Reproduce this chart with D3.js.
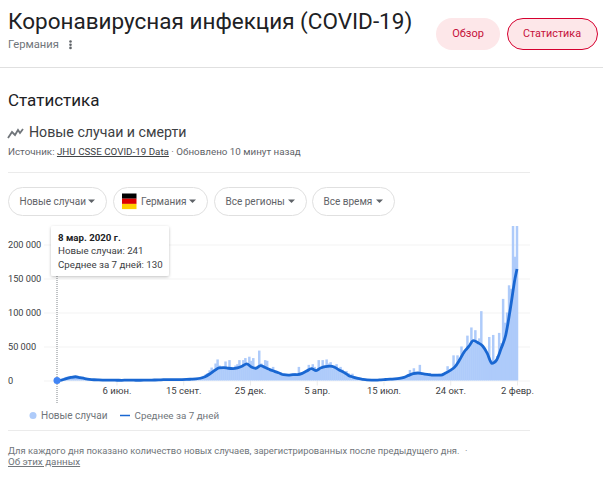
<!DOCTYPE html>
<html>
<head>
<meta charset="utf-8">
<script src="https://cdnjs.cloudflare.com/ajax/libs/d3/7.8.5/d3.min.js"></script>
<style>
  html, body { margin: 0; padding: 0; background: #fff; overflow: hidden; }
  text { font-family: Roboto, Arial, sans-serif; }
</style>
</head>
<body>
<svg id="chart" width="603" height="491"></svg>
<script>
// new cases, one value every 3 days from 8 Mar 2020
var newCases = [
	241, 900, 1500, 3500, 4500, 5500, 6000, 6800, 5500, 4800,
	4000, 3800, 2800, 2500, 1800, 2000, 1300, 1200, 1300, 900,
	1000, 700, 600, 650, 500, 600, 400, 500, 350, 300,
	400, 300, 350, 1000, 500, 600, 400, 500, 350, 400,
	350, 400, 450, 500, 600, 700, 800, 900, 700, 1000,
	1100, 1300, 1400, 1500, 1300, 1400, 1200, 1300, 1400, 1200,
	1400, 1300, 1600, 1800, 1600, 2200, 1800, 2300, 2500, 2800,
	2700, 3500, 4500, 5500, 6800, 9000, 11000, 15000, 19000, 16000,
	25000, 31000, 22000, 17000, 20000, 28000, 17000, 30000, 20000, 17000,
	22000, 24000, 30000, 19000, 30000, 33000, 24000, 35000, 29000, 33000,
	17000, 20000, 44000, 25000, 19000, 30000, 29000, 14000, 16000, 20000,
	14000, 12000, 9000, 12000, 8000, 8000, 9000, 8000, 9000, 10000,
	11000, 9000, 20000, 9000, 12000, 14000, 16000, 23000, 15000, 24000,
	20000, 15000, 30000, 16000, 30000, 22000, 31000, 25000, 27000, 18000,
	22000, 24000, 16000, 20000, 16000, 13000, 14000, 11000, 8000, 10000,
	6000, 5500, 4500, 3500, 3000, 2200, 2000, 1500, 1200, 1000,
	800, 700, 600, 800, 500, 700, 1000, 1000, 1200, 1500,
	2000, 2500, 2200, 3000, 3500, 4000, 5000, 6500, 15500, 9000,
	18000, 10000, 12000, 23000, 9000, 10000, 9000, 8000, 11000, 8000,
	8000, 9000, 8000, 10000, 8000, 8000, 11000, 21000, 14000, 17000,
	37000, 22000, 37000, 30000, 50000, 38000, 42000, 66000, 48000, 78000,
	56000, 74000, 55000, 62000, 102000, 50000, 46000, 40000, 64000, 30000,
	67000, 27000, 36000, 70000, 55000, 120000, 85000, 100000, 140000, 135000,
	240000, 182000, 240000
];

// 7 day average, one value per week from 8 Mar 2020, last one is 2 Feb 2022
var averageCases = [
	130, 700, 2800, 4500, 5500, 4200, 2900, 1800, 1100, 800,
	650, 550, 450, 400, 330, 500, 550, 400, 350, 450,
	600, 700, 850, 1200, 1300, 1200, 1300, 1400, 1600, 1900,
	2300, 3300, 5500, 9500, 14500, 18500, 19000, 18000, 17500, 18500,
	21000, 24500, 20000, 18000, 22000, 19000, 16000, 13500, 11000, 8500,
	8000, 8500, 8700, 10500, 14000, 17500, 14500, 18500, 20500, 21000,
	19500, 15500, 12000, 7500, 5000, 3000, 1800, 900, 650, 600,
	1000, 1500, 2000, 2300, 3000, 4500, 7500, 10000, 11000, 10000,
	9000, 8000, 8000, 8000, 11000, 15000, 20000, 30000, 42000, 50000,
	58500, 55600, 50700, 40000, 25300, 30000, 47000, 67000, 106000, 150000,
	164000
];

var yTicks = [0, 50000, 100000, 150000, 200000];
var xTickDates = ["2020-06-06", "2020-09-15", "2020-12-25", "2021-04-05", "2021-07-15", "2021-10-24", "2022-02-02"];
var xTickLabels = ["6 июн.", "15 сент.", "25 дек.", "5 апр.", "15 июл.", "24 окт.", "2 февр."];
var filterLabels = ["Новые случаи", "Германия", "Все регионы", "Все время"];
var tooltipLines = ["8 мар. 2020 г.", "Новые случаи: 241", "Среднее за 7 дней: 130"];

var parseDay = d3.utcParse("%Y-%m-%d");
var startDate = parseDay("2020-03-08");
var endDate = parseDay("2022-02-02");

function addDays(n) {
	return d3.utcDay.offset(startDate, n);
}

var barData = newCases.map(function(v, i) { return { date: addDays(i * 3), value: v }; });
var lineData = averageCases.map(function(v, i) {
	return { date: i == averageCases.length - 1 ? endDate : addDays(i * 7), value: v };
});

var svg = d3.select("#chart");

var x = d3.scaleUtc().domain([startDate, endDate]).range([57, 517]);
var y = d3.scaleLinear().domain([0, 200000]).range([380.5, 244.5]);
var topEdge = 226;

drawHeader();
drawFilters();
drawAxes();
drawMarks();
drawTooltip();
drawFooter();

function label(parent, txt, px, py, size, color, weight) {
	return parent.append("text")
		.attr("x", px).attr("y", py)
		.attr("font-size", size)
		.attr("fill", color)
		.attr("font-weight", weight || 400)
		.text(txt);
}

function rule(px1, px2, py, color) {
	svg.append("line")
		.attr("x1", px1).attr("x2", px2)
		.attr("y1", py).attr("y2", py)
		.attr("stroke", color);
}

function drawHeader() {
	label(svg, "Коронавирусная инфекция (COVID-19)", 8, 29, 22.5, "#202124");
	label(svg, "Германия", 8, 48, 11.2, "#70757a");

	svg.selectAll(".menu-dot").data([0, 1, 2]).enter().append("circle")
		.attr("cx", 70.5).attr("cy", function(d) { return 41.5 + d * 3.2; })
		.attr("r", 1.3).attr("fill", "#5f6368");

	svg.append("rect").attr("x", 436).attr("y", 18).attr("width", 64).attr("height", 32)
		.attr("rx", 16).attr("fill", "#fde7e9");
	label(svg, "Обзор", 468, 37, 11, "#c5103a").attr("text-anchor", "middle");

	svg.append("rect").attr("x", 507.5).attr("y", 18.5).attr("width", 90).attr("height", 31)
		.attr("rx", 15.5).attr("fill", "#fde7e9").attr("stroke", "#d5002f");
	label(svg, "Статистика", 552, 37, 10.8, "#c5103a").attr("text-anchor", "middle");

	rule(0, 603, 67.5, "#e0e0e0");

	label(svg, "Статистика", 8, 106, 17, "#202124");

	svg.append("path").attr("d", d3.line()([[8, 138], [12, 132], [15, 135], [18, 130], [20, 133], [23, 129]]))
		.attr("fill", "none").attr("stroke", "#70757a").attr("stroke-width", 1.8);
	label(svg, "Новые случаи и смерти", 29, 137, 14.2, "#3c4043");

	var src = label(svg, "Источник: ", 8, 155, 9.8, "#5f6368");
	src.append("tspan").attr("fill", "#3c4043").attr("text-decoration", "underline").text("JHU CSSE COVID-19 Data");
	src.append("tspan").text(" · Обновлено 10 минут назад");

	rule(8, 530, 172.5, "#ebebeb");
}

function drawFilters() {
	var boxes = [[8.5, 98], [113.5, 94], [214.5, 92], [312.5, 82]];
	var g = svg.selectAll(".filter").data(filterLabels).enter().append("g").attr("class", "filter");

	g.append("rect")
		.attr("x", function(d, i) { return boxes[i][0]; })
		.attr("y", 187.5)
		.attr("width", function(d, i) { return boxes[i][1]; })
		.attr("height", 28)
		.attr("rx", 14)
		.attr("fill", "#fff")
		.attr("stroke", "#e0e0e0");

	g.append("text")
		.attr("x", function(d, i) { return i == 1 ? 141 : boxes[i][0] + 11; })
		.attr("y", 204.5)
		.attr("font-size", 10)
		.attr("fill", "#5f6368")
		.text(function(d) { return d; });

	g.append("path")
		.attr("d", function(d, i) {
			var cx = boxes[i][0] + boxes[i][1] - 15;
			return "M" + (cx - 3.5) + " 199.5 L" + (cx + 3.5) + " 199.5 L" + cx + " 203 Z";
		})
		.attr("fill", "#5f6368");

	var flagColors = ["#000", "#dd0000", "#ffce00"];
	svg.selectAll(".flag").data(flagColors).enter().append("rect")
		.attr("x", 122).attr("width", 14.5).attr("height", 5.2)
		.attr("y", function(d, i) { return 193.5 + i * 5.2; })
		.attr("fill", function(d) { return d; });
}

function drawAxes() {
	var fmt = d3.formatLocale({ decimal: ",", thousands: " ", grouping: [3], currency: ["", ""] }).format(",");

	var yAxis = d3.axisLeft(y).tickValues(yTicks).tickSize(0).tickFormat(fmt);
	var yg = svg.append("g").attr("transform", "translate(0,0)").call(yAxis);
	yg.select(".domain").remove();
	yg.selectAll("text")
		.attr("x", 8).attr("dy", "0.32em").attr("text-anchor", "start")
		.attr("font-size", 9.2).attr("font-family", "Roboto, Arial, sans-serif").attr("fill", "#3c4043");
	yg.selectAll("line")
		.attr("x1", 44).attr("x2", 530).attr("stroke", "#f3f3f3");

	var xAxis = d3.axisBottom(x)
		.tickValues(xTickDates.map(parseDay))
		.tickSize(5)
		.tickPadding(2)
		.tickFormat(function(d, i) { return xTickLabels[i]; });
	var xg = svg.append("g").attr("transform", "translate(0," + y(0) + ")").call(xAxis);
	xg.select(".domain").remove();
	xg.selectAll("line").attr("stroke", "#ececec");
	xg.selectAll("text")
		.attr("font-size", 9.5).attr("font-family", "Roboto, Arial, sans-serif").attr("fill", "#3c4043");
}

function drawMarks() {
	svg.append("clipPath").attr("id", "plot-clip").append("rect")
		.attr("x", 44).attr("y", topEdge).attr("width", 486).attr("height", y(0) - topEdge + 2);

	// a bit wider than the 3 day step so no pale seams show between bars
	var barWidth = x(addDays(3)) - x(addDays(0)) + 0.5;

	svg.append("g").attr("clip-path", "url(#plot-clip)")
		.selectAll("rect").data(barData).enter().append("rect")
		.attr("x", function(d) { return x(d.date) - barWidth / 2; })
		.attr("y", function(d) { return y(d.value); })
		.attr("width", barWidth)
		.attr("height", function(d) { return y(0) - y(d.value); })
		.attr("fill", "#aecbfa");

	var line = d3.line()
		.x(function(d) { return x(d.date); })
		.y(function(d) { return y(d.value); })
		.curve(d3.curveMonotoneX);

	svg.append("path").datum(lineData)
		.attr("d", line)
		.attr("fill", "none")
		.attr("stroke", "#1967d2")
		.attr("stroke-width", 2.8)
		.attr("stroke-linejoin", "round");

	svg.append("line")
		.attr("x1", x(startDate)).attr("x2", x(startDate))
		.attr("y1", 276).attr("y2", 403)
		.attr("stroke", "#80868b").attr("stroke-dasharray", "1,1");

	svg.append("circle")
		.attr("cx", x(startDate)).attr("cy", y(averageCases[0]))
		.attr("r", 3.5).attr("fill", "#4285f4");
}

function drawTooltip() {
	svg.append("filter").attr("id", "tip-shadow")
		.append("feDropShadow")
		.attr("dx", 0).attr("dy", 1).attr("stdDeviation", 1.5)
		.attr("flood-color", "#000").attr("flood-opacity", 0.25);

	svg.append("rect").attr("x", 51).attr("y", 226).attr("width", 118).attr("height", 50)
		.attr("rx", 2).attr("fill", "#fff").attr("filter", "url(#tip-shadow)");

	svg.selectAll(".tip").data(tooltipLines).enter().append("text")
		.attr("x", 58)
		.attr("y", function(d, i) { return 240.5 + i * 13.5; })
		.attr("font-size", 9.7)
		.attr("font-weight", function(d, i) { return i == 0 ? 700 : 400; })
		.attr("fill", function(d, i) { return i == 0 ? "#202124" : "#3c4043"; })
		.text(function(d) { return d; });
}

function drawFooter() {
	svg.append("circle").attr("cx", 33).attr("cy", 415.5).attr("r", 3.5).attr("fill", "#aecbfa");
	label(svg, "Новые случаи", 41, 419, 10, "#70757a");
	svg.append("line").attr("x1", 120).attr("x2", 130).attr("y1", 415.5).attr("y2", 415.5)
		.attr("stroke", "#1967d2").attr("stroke-width", 1.5);
	label(svg, "Среднее за 7 дней", 134.5, 419, 9.8, "#70757a");

	rule(8, 530, 430.5, "#ebebeb");

	label(svg, "Для каждого дня показано количество новых случаев, зарегистрированных после предыдущего дня.", 8, 453.5, 9.4, "#70757a");
	label(svg, "·", 465, 453.5, 9.4, "#70757a");
	label(svg, "Об этих данных", 8, 465, 9.8, "#70757a").attr("text-decoration", "underline");
}
</script>
</body>
</html>
